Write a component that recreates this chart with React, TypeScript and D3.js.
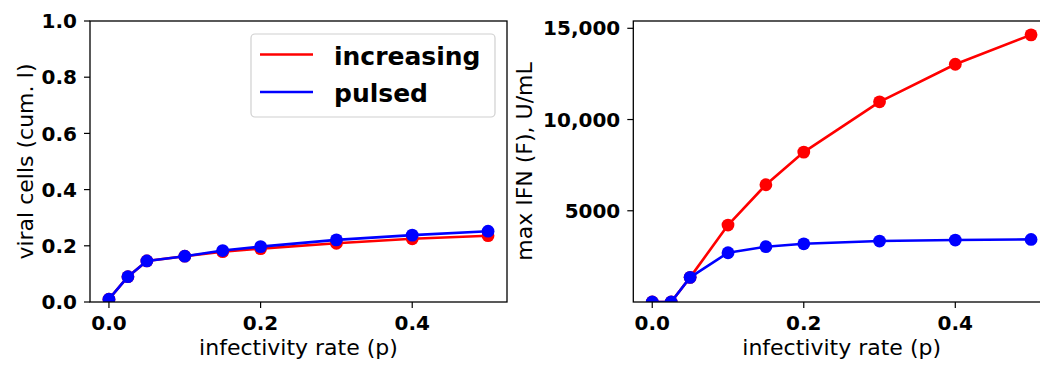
import React from "react";
import * as d3 from "d3";

const pValues = [0, 0.025, 0.05, 0.1, 0.15, 0.2, 0.3, 0.4, 0.5];
const leftIncreasing = [0.01, 0.09, 0.146, 0.163, 0.179, 0.19, 0.209, 0.225, 0.236];
const leftPulsed = [0.01, 0.09, 0.146, 0.163, 0.183, 0.197, 0.221, 0.238, 0.252];
const rightIncreasing = [0, 0, 1350, 4215, 6425, 8215, 10970, 13030, 14640];
const rightPulsed = [0, 0, 1350, 2700, 3030, 3190, 3340, 3395, 3430];
const xTicks = [0, 0.2, 0.4];
const xTickLabels = ["0.0", "0.2", "0.4"];
const leftYTicks = [0, 0.2, 0.4, 0.6, 0.8, 1.0];
const leftYTickLabels = ["0.0", "0.2", "0.4", "0.6", "0.8", "1.0"];
const rightYTicks = [5000, 10000, 15000];
const rightYTickLabels = ["5000", "10,000", "15,000"];
const seriesNames = ["increasing", "pulsed"];
const seriesColors = ["#ff0000", "#0000ff"];

const FONT = "'DejaVu Sans', sans-serif";

type PanelProps = {
  id: string;
  left: number;
  right: number;
  yDomain: [number, number];
  yTicks: number[];
  yTickLabels: string[];
  ySeries: number[][];
  yLabel: string;
  yLabelX: number;
  legend?: boolean;
};

const TOP = 21;
const BOTTOM = 302;

function Panel(p: PanelProps) {
  const x = d3.scaleLinear().domain([-0.025, 0.525]).range([p.left, p.right]);
  const y = d3.scaleLinear().domain(p.yDomain).range([BOTTOM, TOP]);
  const line = d3
    .line<number>()
    .x((_, i) => x(pValues[i]))
    .y((d) => y(d));
  const cx = (p.left + p.right) / 2;
  const cy = (TOP + BOTTOM) / 2;
  return (
    <g>
      <defs>
        <clipPath id={p.id}>
          <rect x={p.left} y={TOP} width={p.right - p.left} height={BOTTOM - TOP} />
        </clipPath>
      </defs>
      <rect x={p.left} y={TOP} width={p.right - p.left} height={BOTTOM - TOP} fill="#fff" />
      <g clipPath={`url(#${p.id})`}>
        {p.ySeries.map((s, si) => (
          <g key={si}>
            <path d={line(s) || ""} fill="none" stroke={seriesColors[si]} strokeWidth={2.6} strokeLinejoin="round" />
            {s.map((v, i) => (
              <circle key={i} cx={x(pValues[i])} cy={y(v)} r={6.4} fill={seriesColors[si]} />
            ))}
          </g>
        ))}
      </g>
      {xTicks.map((t, i) => (
        <g key={i}>
          <line x1={x(t)} x2={x(t)} y1={BOTTOM} y2={BOTTOM + 6} stroke="#000" strokeWidth={1.2} />
          <text x={x(t)} y={330} textAnchor="middle" fontFamily={FONT} fontWeight="bold" fontSize={20}>
            {xTickLabels[i]}
          </text>
        </g>
      ))}
      {p.yTicks.map((t, i) => (
        <g key={i}>
          <line x1={p.left - 6} x2={p.left} y1={y(t)} y2={y(t)} stroke="#000" strokeWidth={1.2} />
          <text
            x={p.left - 13}
            y={y(t)}
            dy="0.36em"
            textAnchor="end"
            fontFamily={FONT}
            fontWeight="bold"
            fontSize={20}
          >
            {p.yTickLabels[i]}
          </text>
        </g>
      ))}
      <rect
        x={p.left}
        y={TOP}
        width={p.right - p.left}
        height={BOTTOM - TOP}
        fill="none"
        stroke="#000"
        strokeWidth={1.3}
      />
      <text x={cx} y={355} textAnchor="middle" fontFamily={FONT} fontSize={22}>
        infectivity rate (p)
      </text>
      <text
        transform={`translate(${p.yLabelX},${cy}) rotate(-90)`}
        textAnchor="middle"
        dy="0.36em"
        fontFamily={FONT}
        fontSize={22}
      >
        {p.yLabel}
      </text>
      {p.legend && (
        <g>
          <rect x={251} y={34} width={244} height={83} rx={4} fill="#fff" fillOpacity={0.8} stroke="#d0d0d0" strokeWidth={1.2} />
          {seriesNames.map((n, i) => (
            <g key={i}>
              <line x1={260} x2={313} y1={54.5 + i * 37.5} y2={54.5 + i * 37.5} stroke={seriesColors[i]} strokeWidth={2.6} />
              <text x={334} y={65 + i * 37} fontFamily={FONT} fontWeight="bold" fontSize={25}>
                {n}
              </text>
            </g>
          ))}
        </g>
      )}
    </g>
  );
}

export default function App() {
  return (
    <svg
      width={1040}
      height={365}
      style={{ position: "absolute", left: 0, top: 0, background: "#fff" }}
    >
      <rect x={0} y={0} width={1040} height={365} fill="#fff" />
      <Panel
        id="clipL"
        left={90}
        right={507}
        yDomain={[0, 1]}
        yTicks={leftYTicks}
        yTickLabels={leftYTickLabels}
        ySeries={[leftIncreasing, leftPulsed]}
        yLabel="viral cells (cum. I)"
        yLabelX={25}
        legend
      />
      <Panel
        id="clipR"
        left={633.3}
        right={1050}
        yDomain={[0, 15400]}
        yTicks={rightYTicks}
        yTickLabels={rightYTickLabels}
        ySeries={[rightIncreasing, rightPulsed]}
        yLabel="max IFN (F), U/mL"
        yLabelX={524}
      />
    </svg>
  );
}
